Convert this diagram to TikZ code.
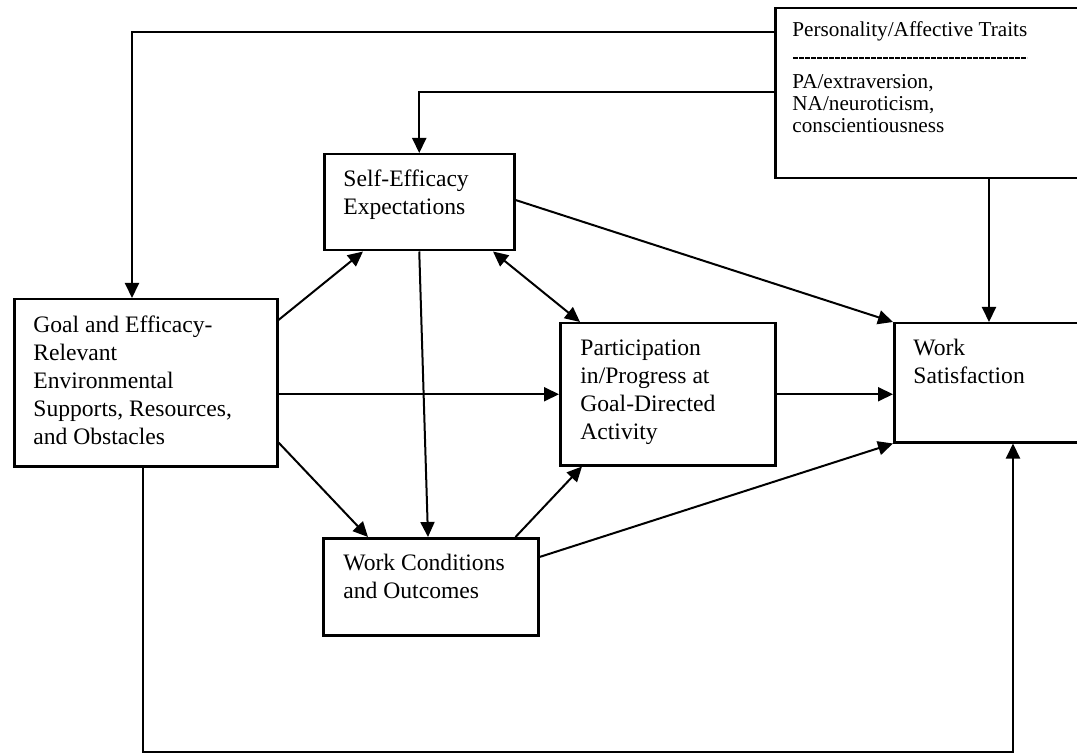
\documentclass[tikz,border=0pt]{standalone}
\usepackage{fontspec}
\setmainfont{Liberation Serif}
\usetikzlibrary{arrows.meta}

\begin{document}
\begin{tikzpicture}[x=0.5pt,y=-0.5pt,
    box/.style={draw, line width=1.25pt, inner sep=0pt, anchor=north west},
    txt/.style={inner sep=0pt, anchor=north west, align=left, font=\fontsize{11.8}{14}\selectfont},
    small/.style={txt, font=\fontsize{10.6}{11}\selectfont},
    arr/.style={line width=1pt, -{Triangle[length=7.5pt,width=7pt]}},
    dblarr/.style={line width=1pt, {Triangle[length=7.5pt,width=7pt]}-{Triangle[length=7.5pt,width=7pt]}}]
    \useasboundingbox (0,0) rectangle (1077,754);

    \node[box, minimum width=158pt, minimum height=85pt] (pers) at (774,7) {};
    \node[box, minimum width=95pt, minimum height=48pt] (se) at (323,153) {};
    \node[box, minimum width=131.5pt, minimum height=83.5pt] (goal) at (13,298) {};
    \node[box, minimum width=107.5pt, minimum height=71pt] (part) at (559,322) {};
    \node[box, minimum width=98.5pt, minimum height=59.5pt] (ws) at (893,322) {};
    \node[box, minimum width=107.5pt, minimum height=48.5pt] (wc) at (322,537) {};

    \node[small] (perstitle) at ([shift={(18,14)}]pers.north west) {Personality/Affective Traits};
    \draw[line width=0.6pt, dash pattern=on 2.4pt off 0.6pt] ([shift={(19,51)}]pers.north west) -- ++(234,0);
    \node[small] (persbody) at ([shift={(18,67)}]pers.north west) {PA/extraversion,\\NA/neuroticism,\\conscientiousness};
    \node[txt] (setxt) at ([shift={(20,16)}]se.north west) {Self-Efficacy\\Expectations};
    \node[txt] (goaltxt) at ([shift={(20,17)}]goal.north west) {Goal and Efficacy-\\Relevant\\Environmental\\Supports, Resources,\\and Obstacles};
    \node[txt] (parttxt) at ([shift={(21,17)}]part.north west) {Participation\\in/Progress at\\Goal-Directed\\Activity};
    \node[txt] (wstxt) at ([shift={(20,17)}]ws.north west) {Work\\Satisfaction};
    \node[txt] (wctxt) at ([shift={(21,17)}]wc.north west) {Work Conditions\\and Outcomes};

    \coordinate (bottom) at (0,752);

    \draw[arr] ([shift={(0,25)}]pers.north west) -| ([shift={(119,0)}]goal.north west);
    \draw[arr] ([shift={(0,85)}]pers.north west) -| (se.north);
    \draw[arr] ([shift={(215,0)}]pers.south west) coordinate (pdown) -- (pdown |- ws.north);

    \draw[arr] ([shift={(0,22)}]goal.north east) -- ([shift={(40,0)}]se.south west);
    \draw[arr] (part.west -| goal.east) -- (part.west);
    \draw[arr] ([shift={(0,-25)}]goal.south east) -- ([shift={(46,0)}]wc.north west);

    \draw[arr] (se.south) -- ([shift={(106,0)}]wc.north west);
    \draw[dblarr] ([shift={(170,0)}]se.south west) -- ([shift={(21,0)}]part.north west);
    \draw[arr] ([shift={(0,47)}]se.north east) -- (ws.north west);

    \draw[arr] (part.east) -- (part.east -| ws.west);
    \draw[arr] ([shift={(-24,0)}]wc.north east) -- ([shift={(23,0)}]part.south west);
    \draw[arr] ([shift={(0,20)}]wc.north east) -- (ws.south west);

    \draw[arr] ([shift={(130,0)}]goal.south west) coordinate (gdown) -- (gdown |- bottom) -| ([shift={(120,0)}]ws.south west);
\end{tikzpicture}
\end{document}
